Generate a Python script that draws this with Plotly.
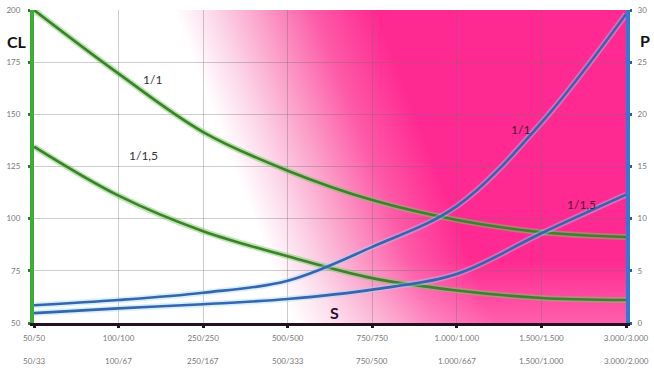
import base64
import plotly.graph_objects as go

# ---- data ----
cat_pos = [0, 1, 2, 3, 4, 5, 6, 7]
s_labels_1 = ["50/50", "100/100", "250/250", "500/500", "750/750", "1.000/1.000", "1.500/1.500", "3.000/3.000"]
s_labels_2 = ["50/33", "100/67", "250/167", "500/333", "750/500", "1.000/667", "1.500/1.000", "3.000/2.000"]

cl_1_1 = [200, 169.5, 141.5, 123, 108.9, 99.4, 93.5, 91.2]
cl_1_15 = [134.5, 111, 94, 82, 71.5, 65.6, 62, 61]
p_1_1 = [1.7, 2.2, 2.9, 4.05, 7.3, 11.2, 19.2, 29.6]
p_1_15 = [0.95, 1.4, 1.8, 2.3, 3.2, 4.7, 8.6, 12.3]

cl_ticks = [50, 75, 100, 125, 150, 175, 200]
p_ticks = [0, 5, 10, 15, 20, 25, 30]

FONT = "Lato, 'Open Sans', 'DejaVu Sans', sans-serif"
GREEN = "#3f7f2f"
GREEN_HALO = "rgba(110,210,90,0.5)"
BLUE = "#3863ad"
BLUE_HALO = "rgba(150,220,255,0.4)"

fig = go.Figure()

def add_curve(y, color, halo, yaxis):
    fig.add_trace(go.Scatter(x=cat_pos, y=y, mode="lines", yaxis=yaxis,
                             line=dict(color=halo, width=6, shape="spline", smoothing=1.0),
                             hoverinfo="skip", showlegend=False))
    fig.add_trace(go.Scatter(x=cat_pos, y=y, mode="lines", yaxis=yaxis,
                             line=dict(color=color, width=2.6, shape="spline", smoothing=1.0),
                             showlegend=False))

add_curve(cl_1_1, GREEN, GREEN_HALO, "y")
add_curve(cl_1_15, GREEN, GREEN_HALO, "y")
add_curve(p_1_1, BLUE, BLUE_HALO, "y2")
add_curve(p_1_15, BLUE, BLUE_HALO, "y2")

# ---- background gradient (style only), as an SVG image ----
svg = """<svg xmlns="http://www.w3.org/2000/svg" width="592" height="313" viewBox="0 0 592 313" preserveAspectRatio="none">
<defs>
<linearGradient id="g" gradientUnits="userSpaceOnUse" x1="140" y1="0" x2="315" y2="-67">
<stop offset="0" stop-color="#ffffff"/>
<stop offset="0.2" stop-color="#fcd6e8"/>
<stop offset="0.45" stop-color="#fb9ac6"/>
<stop offset="0.7" stop-color="#fd5aa8"/>
<stop offset="1" stop-color="#ff2a91"/>
</linearGradient>
<linearGradient id="b" x1="0" y1="0" x2="0" y2="1">
<stop offset="0.8" stop-color="#ffffff" stop-opacity="0"/>
<stop offset="1" stop-color="#ffffff" stop-opacity="0.25"/>
</linearGradient>
</defs>
<rect x="0" y="0" width="592" height="313" fill="url(#g)"/>
<rect x="0" y="0" width="592" height="313" fill="url(#b)"/>
</svg>"""
src = "data:image/svg+xml;base64," + base64.b64encode(svg.encode()).decode()

annotations = []
for xp, lab in zip(cat_pos, s_labels_2):
    annotations.append(dict(x=xp, y=0, xref="x", yref="paper", text=lab, showarrow=False,
                            xanchor="center", yanchor="middle", yshift=-38,
                            font=dict(size=8, color="#777", family=FONT)))

def lab(x, y, text, color="#333", size=12):
    annotations.append(dict(x=x, y=y, xref="x", yref="y", text=text, showarrow=False,
                            xanchor="center", yanchor="middle",
                            font=dict(size=size, color=color, family=FONT)))

lab(1.40, 166.5, "1/1")
lab(1.29, 130.5, "1/1,5")
lab(5.75, 142.5, "1/1", color="#4a1a3a")
lab(6.47, 107, "1/1,5", color="#4a1a3a")

def paper_lab(x, y, text, color):
    annotations.append(dict(x=x, y=y, xref="paper", yref="paper", text=text, showarrow=False,
                            xanchor="center", yanchor="middle",
                            font=dict(size=16, color=color, family=FONT)))

paper_lab(-0.029, 0.90, "<b>CL</b>", "#111")
paper_lab(1.032, 0.904, "<b>P</b>", "#111")
paper_lab(0.508, 0.034, "<b>S</b>", "#2a1030")

fig.update_layout(
    width=654, height=370,
    margin=dict(l=34, r=28, t=10, b=47),
    paper_bgcolor="white", plot_bgcolor="rgba(0,0,0,0)",
    font=dict(family=FONT),
    annotations=annotations,
    images=[dict(source=src, xref="paper", yref="paper", x=0, y=1, sizex=1, sizey=1,
                 xanchor="left", yanchor="top", sizing="stretch", layer="below")],
    xaxis=dict(range=[0, 7], tickvals=cat_pos, ticktext=s_labels_1, showgrid=True, automargin=False,
               gridcolor="rgba(110,110,110,0.35)", gridwidth=1, zeroline=False,
               showline=True, linecolor="#231020", linewidth=3,
               ticks="outside", ticklen=2, tickwidth=3, tickcolor="#231020",
               tickfont=dict(size=8, color="#777"), ticklabelstandoff=3),
    yaxis=dict(range=[50, 200], tickvals=cl_ticks, showgrid=True, automargin=False,
               gridcolor="rgba(110,110,110,0.35)", gridwidth=1, zeroline=False,
               showline=True, linecolor="#3cae38", linewidth=4,
               ticks="outside", ticklen=2, tickwidth=3, tickcolor="#2e7a2a",
               tickfont=dict(size=8, color="#777"), ticklabelstandoff=6),
    yaxis2=dict(range=[0, 30], tickvals=p_ticks, overlaying="y", side="right", automargin=False,
                showgrid=False, zeroline=False,
                showline=True, linecolor="#2f7ad6", linewidth=4,
                ticks="outside", ticklen=2, tickwidth=3, tickcolor="#2a5aa8",
                tickfont=dict(size=8, color="#777"), ticklabelstandoff=4),
)

fig.write_html("out.html", config={"displayModeBar": False},
               post_script="document.body.style.margin='0';document.body.style.padding='0';")
